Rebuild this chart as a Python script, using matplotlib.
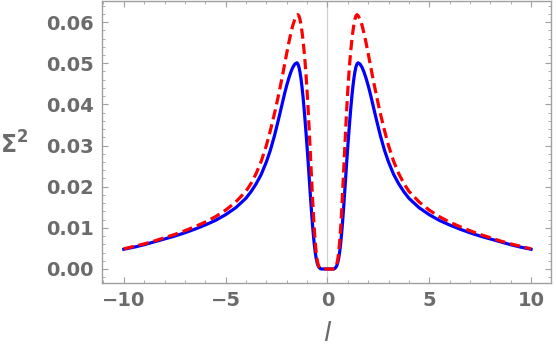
import numpy as np
import matplotlib
matplotlib.use("Agg")
import matplotlib.pyplot as plt
from matplotlib.ticker import MultipleLocator

# valores (lado positivo, la curva es simetrica)
l_azul = [0.0, 0.2, 0.3, 0.35, 0.4, 0.45, 0.5, 0.55, 0.6, 0.65, 0.7, 0.75,
          0.8, 0.85, 0.9, 0.95, 1.0, 1.05, 1.1, 1.15, 1.2, 1.25, 1.3, 1.35,
          1.4, 1.45, 1.5, 1.6, 1.7, 1.8, 1.9, 2.0, 2.1, 2.2, 2.3, 2.4, 2.5,
          2.6, 2.8, 3.0, 3.25, 3.5, 3.75, 4.0, 4.5, 5.0, 5.5, 6.0, 6.5, 7.0,
          7.5, 8.0, 8.5, 9.0, 9.5, 10.0]
sigma_azul = [0.0, 0.0, 0.0, 0.0001, 0.0003, 0.0007, 0.0014, 0.0025, 0.0041,
              0.0062, 0.0088, 0.0118, 0.0152, 0.0188, 0.0225, 0.0262, 0.0297,
              0.0330, 0.0362, 0.0392, 0.0419, 0.0443, 0.0463, 0.0479, 0.0491,
              0.0498, 0.0501, 0.0498, 0.0490, 0.0478, 0.0463, 0.0446, 0.0427,
              0.0406, 0.0385, 0.0364, 0.0344, 0.0324, 0.0289, 0.0260, 0.0230,
              0.0207, 0.0188, 0.0172, 0.0149, 0.0132, 0.0118, 0.0107, 0.0097,
              0.0088, 0.0080, 0.0073, 0.0066, 0.0059, 0.0053, 0.0048]

l_rojo = [0.0, 0.2, 0.3, 0.35, 0.4, 0.45, 0.5, 0.55, 0.6, 0.65, 0.7, 0.75,
          0.8, 0.85, 0.9, 0.95, 1.0, 1.05, 1.1, 1.15, 1.2, 1.25, 1.3, 1.35,
          1.4, 1.45, 1.5, 1.6, 1.7, 1.8, 1.9, 2.0, 2.1, 2.2, 2.3, 2.4, 2.5,
          2.6, 2.8, 3.0, 3.25, 3.5, 3.75, 4.0, 4.5, 5.0, 5.5, 6.0, 6.5, 7.0,
          7.5, 8.0, 8.5, 9.0, 9.5, 10.0]
sigma_rojo = [0.0, 0.0, 0.0, 0.0001, 0.0004, 0.0010, 0.0021, 0.0039, 0.0065,
              0.0100, 0.0142, 0.0190, 0.0241, 0.0293, 0.0343, 0.0390, 0.0433,
              0.0471, 0.0504, 0.0532, 0.0557, 0.0577, 0.0594, 0.0607, 0.0615,
              0.0618, 0.0616, 0.0607, 0.0592, 0.0572, 0.0549, 0.0524, 0.0498,
              0.0472, 0.0447, 0.0423, 0.0400, 0.0378, 0.0337, 0.0300, 0.0262,
              0.0232, 0.0208, 0.0189, 0.0163, 0.0143, 0.0127, 0.0114, 0.0103,
              0.0093, 0.0084, 0.0076, 0.0068, 0.0061, 0.0055, 0.0049]

def espejo(x, y):
    x = np.array(x)
    y = np.array(y)
    return np.concatenate([-x[::-1], x[1:]]), np.concatenate([y[::-1], y[1:]])

la, azul = espejo(l_azul, sigma_azul)
lr, rojo = espejo(l_rojo, sigma_rojo)

gris = "#6b6b6b"
marco = "#a0a0a0"

fig = plt.figure(figsize=(5.56, 3.54), dpi=100)
ax = fig.add_axes([0.1835, 0.2006, 0.8075, 0.7964])

ax.axvline(0, color="#d0d0d0", lw=0.9, zorder=1)
ax.plot(la, azul, color="blue", lw=2.3, zorder=2)
ax.plot(lr, rojo, color="red", lw=2.3, ls=(0, (3.2, 1.6)), zorder=3)

ax.set_xlim(-11.07, 10.98)
ax.set_ylim(-0.0034, 0.0651)

ax.xaxis.set_major_locator(MultipleLocator(5))
ax.xaxis.set_minor_locator(MultipleLocator(1))
ax.yaxis.set_major_locator(MultipleLocator(0.01))
ax.yaxis.set_minor_locator(MultipleLocator(0.002))
ax.yaxis.set_major_formatter(plt.FuncFormatter(lambda v, p: f"{v:.2f}"))

for s in ax.spines.values():
    s.set_color(marco)
    s.set_linewidth(1.0)

ax.tick_params(which="both", direction="in", top=True, right=True,
               color=marco, labelcolor=gris, labelsize=14)
ax.tick_params(which="major", length=4, width=0.8, pad=6)
ax.tick_params(which="minor", length=2.5, width=0.6)
for t in ax.get_xticklabels() + ax.get_yticklabels():
    t.set_fontweight("bold")

ax.set_xlabel("l", fontsize=19, fontstyle="italic", color=gris, labelpad=8)
ax.set_ylabel(r"$\mathbf{\Sigma}^{\mathbf{2}}$", fontsize=17, color=gris,
              rotation=0, labelpad=0)
ax.yaxis.set_label_coords(-0.195, 0.44)

fig.savefig("out.png", dpi=100)
